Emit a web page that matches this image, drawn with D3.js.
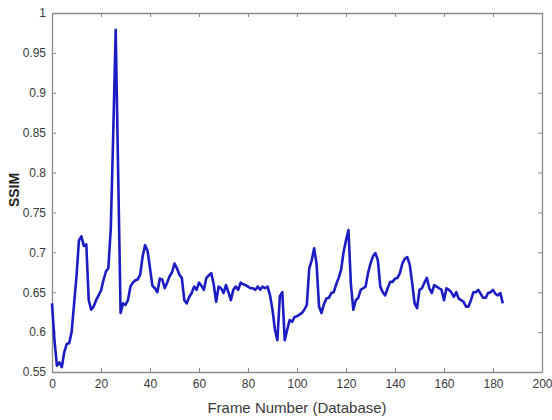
<!DOCTYPE html>
<meta charset="utf-8">
<style>
  body { margin: 0; background: #fff; }
  text { font-family: "Liberation Sans", Arial, sans-serif; }
</style>
<script src="https://d3js.org/d3.v7.min.js"></script>
<body>
<script>

// SSIM per frame (frames 0..184)
var ssim = [
  0.636, 0.590, 0.558, 0.562, 0.556, 0.575, 0.585, 0.586, 0.600, 0.635,
  0.670, 0.715, 0.720, 0.708, 0.710, 0.640, 0.628, 0.632, 0.640, 0.646,
  0.652, 0.665, 0.676, 0.680, 0.730, 0.850, 0.979, 0.800, 0.624, 0.636,
  0.634, 0.640, 0.657, 0.662, 0.665, 0.666, 0.672, 0.695, 0.709, 0.702,
  0.680, 0.658, 0.655, 0.650, 0.667, 0.666, 0.655, 0.662, 0.670, 0.675,
  0.686, 0.680, 0.672, 0.668, 0.640, 0.636, 0.644, 0.649, 0.657, 0.653,
  0.662, 0.658, 0.653, 0.668, 0.671, 0.674, 0.660, 0.638, 0.657, 0.655,
  0.649, 0.659, 0.650, 0.640, 0.653, 0.657, 0.653, 0.662, 0.660, 0.659,
  0.657, 0.655, 0.655, 0.653, 0.657, 0.653, 0.657, 0.655, 0.657, 0.646,
  0.628, 0.603, 0.590, 0.645, 0.650, 0.590, 0.603, 0.615, 0.613, 0.619,
  0.620, 0.622, 0.624, 0.628, 0.634, 0.680, 0.690, 0.705, 0.685, 0.632,
  0.624, 0.635, 0.642, 0.643, 0.649, 0.650, 0.660, 0.668, 0.678, 0.700,
  0.715, 0.728, 0.660, 0.628, 0.640, 0.643, 0.653, 0.655, 0.657, 0.674,
  0.686, 0.695, 0.699, 0.690, 0.657, 0.650, 0.646, 0.655, 0.663, 0.663,
  0.667, 0.668, 0.674, 0.686, 0.692, 0.694, 0.685, 0.662, 0.636, 0.630,
  0.653, 0.655, 0.662, 0.668, 0.655, 0.649, 0.659, 0.657, 0.655, 0.653,
  0.640, 0.655, 0.653, 0.650, 0.644, 0.650, 0.642, 0.640, 0.638, 0.632,
  0.632, 0.640, 0.650, 0.650, 0.653, 0.648, 0.643, 0.643, 0.649, 0.650,
  0.653, 0.648, 0.646, 0.649, 0.636
];

var xTicks = [0, 20, 40, 60, 80, 100, 120, 140, 160, 180, 200];
var yTicks = [0.55, 0.6, 0.65, 0.7, 0.75, 0.8, 0.85, 0.9, 0.95, 1];

var width = 552,
    height = 420,
    margin = {top: 13, right: 10, bottom: 48, left: 52};

var svg = d3.select('body')
            .append('svg')
            .attr('width', width)
            .attr('height', height);

var x = d3.scaleLinear()
  .domain([0, 200])
  .range([margin.left, width - margin.right]);

var y = d3.scaleLinear()
  .domain([0.55, 1])
  .range([height - margin.bottom, margin.top]);

var axisColor = '#8a8a8a',
    labelColor = '#3a3a3a';

// matlab style box with inward ticks on all sides
function styleAxis(g) {
  g.select('.domain').attr('stroke', axisColor).attr('stroke-width', 1.3);
  g.selectAll('.tick line').attr('stroke', axisColor);
  g.selectAll('.tick text').attr('fill', labelColor).style('font-size', '12px');
}

svg.append('g')
  .attr('transform', 'translate(0,' + y(0.55) + ')')
  .call(d3.axisBottom(x).tickValues(xTicks).tickSize(-4).tickPadding(7).tickSizeOuter(0))
  .call(styleAxis);

svg.append('g')
  .attr('transform', 'translate(0,' + y(1) + ')')
  .call(d3.axisTop(x).tickValues(xTicks).tickSize(-4).tickFormat('').tickSizeOuter(0))
  .call(styleAxis);

svg.append('g')
  .attr('transform', 'translate(' + x(0) + ',0)')
  .call(d3.axisLeft(y).tickValues(yTicks).tickSize(-4).tickPadding(6).tickSizeOuter(0)
        .tickFormat(function(d) { return d3.format('')(+d.toFixed(2)); }))
  .call(styleAxis);

svg.append('g')
  .attr('transform', 'translate(' + x(200) + ',0)')
  .call(d3.axisRight(y).tickValues(yTicks).tickSize(-4).tickFormat('').tickSizeOuter(0))
  .call(styleAxis);

var line = d3.line()
  .x(function(d, i) { return x(i); })
  .y(function(d) { return y(d); });

svg.append('path')
  .datum(ssim)
  .attr('fill', 'none')
  .attr('stroke', '#1c1cc4')
  .attr('stroke-width', 2.6)
  .attr('stroke-linejoin', 'round')
  .attr('d', line);

svg.append('text')
  .attr('x', 297)
  .attr('y', 413)
  .attr('text-anchor', 'middle')
  .attr('fill', labelColor)
  .style('font-size', '15px')
  .text('Frame Number (Database)');

svg.append('text')
  .attr('transform', 'translate(19,190) rotate(-90)')
  .attr('text-anchor', 'middle')
  .attr('fill', '#222')
  .style('font-size', '14px')
  .style('font-weight', 'bold')
  .text('SSIM');

</script>
